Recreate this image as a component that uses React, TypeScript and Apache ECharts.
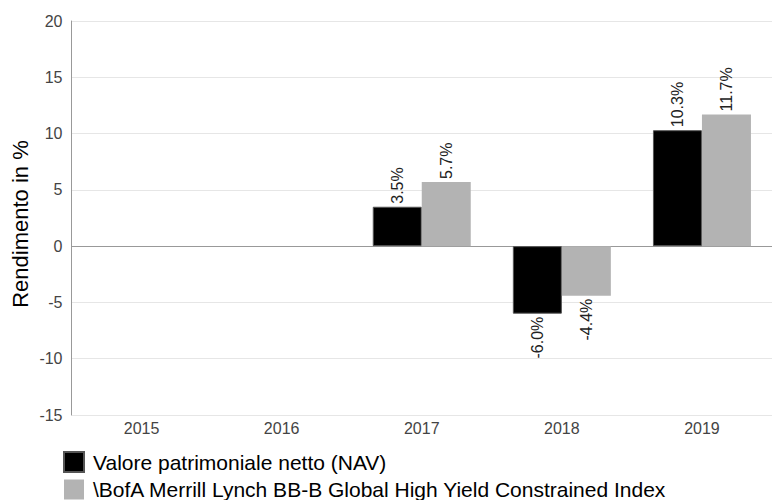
import React, { useEffect, useRef } from "react";
import * as echarts from "echarts";

const categories = ["2015", "2016", "2017", "2018", "2019"];
const navValues: (number | null)[] = [null, null, 3.5, -6.0, 10.3];
const indexValues: (number | null)[] = [null, null, 5.7, -4.4, 11.7];
const seriesNames = [
  "Valore patrimoniale netto (NAV)",
  "\\BofA Merrill Lynch BB-B Global High Yield Constrained Index",
];
const yAxisTitle = "Rendimento in %";

const FONT = "'Liberation Sans', Arial, sans-serif";

function toData(vals: (number | null)[]) {
  return vals.map((v) => {
    if (v === null) return null;
    if (v < 0) {
      return {
        value: v,
        label: { position: "bottom", align: "right", verticalAlign: "middle" },
      };
    }
    return v;
  });
}

export default function App() {
  const ref = useRef<HTMLDivElement>(null);
  useEffect(() => {
    if (!ref.current) return;
    const chart = echarts.init(ref.current, null, { renderer: "svg" });
    const labelCfg = {
      show: true,
      position: "top",
      rotate: 90,
      align: "left",
      verticalAlign: "middle",
      distance: 3,
      fontFamily: FONT,
      fontSize: 16,
      color: "#222",
      formatter: (p: any) => Number(p.value).toFixed(1) + "%",
    };
    chart.setOption({
      animation: false,
      backgroundColor: "#fff",
      textStyle: { fontFamily: FONT },
      grid: { left: 71.5, top: 21, width: 705.5, height: 394, containLabel: false },
      legend: {
        orient: "vertical",
        left: 63,
        top: 451,
        itemWidth: 20,
        itemHeight: 20,
        itemGap: 6,
        icon: "rect",
        padding: 0,
        textStyle: {
          fontFamily: FONT,
          fontSize: 21,
          color: "#000",
          lineHeight: 20,
          padding: [0, 0, 0, 4],
        },
        data: seriesNames,
      },
      graphic: [
        {
          type: "text",
          x: 20,
          y: 224,
          rotation: Math.PI / 2,
          style: {
            text: yAxisTitle,
            font: `22px ${FONT}`,
            fill: "#000",
            align: "center",
            verticalAlign: "middle",
          },
        },
      ],
      xAxis: {
        type: "category",
        data: categories,
        axisLine: { show: true, lineStyle: { color: "#999", width: 1 } },
        axisTick: { show: false },
        axisLabel: { color: "#444", fontSize: 16, fontFamily: FONT, margin: 5 },
        splitLine: { show: false },
      },
      yAxis: {
        type: "value",
        min: -15,
        max: 20,
        interval: 5,
        axisLine: { show: true, lineStyle: { color: "#999", width: 1 } },
        axisTick: { show: false },
        axisLabel: { color: "#444", fontSize: 16, fontFamily: FONT, margin: 9 },
        splitLine: { show: true, lineStyle: { color: "#e6e6e6", width: 1 } },
      },
      series: [
        {
          name: seriesNames[0],
          type: "bar",
          data: toData(navValues),
          barWidth: 49,
          barGap: "0%",
          itemStyle: { color: "#000", borderColor: "#555", borderWidth: 1 },
          label: labelCfg,
        },
        {
          name: seriesNames[1],
          type: "bar",
          data: toData(indexValues),
          barWidth: 49,
          barGap: "0%",
          itemStyle: { color: "#b3b3b3" },
          label: labelCfg,
        },
      ],
    });
    return () => chart.dispose();
  }, []);
  return (
    <div
      ref={ref}
      style={{ position: "absolute", left: 0, top: 0, width: 772, height: 500 }}
    />
  );
}
